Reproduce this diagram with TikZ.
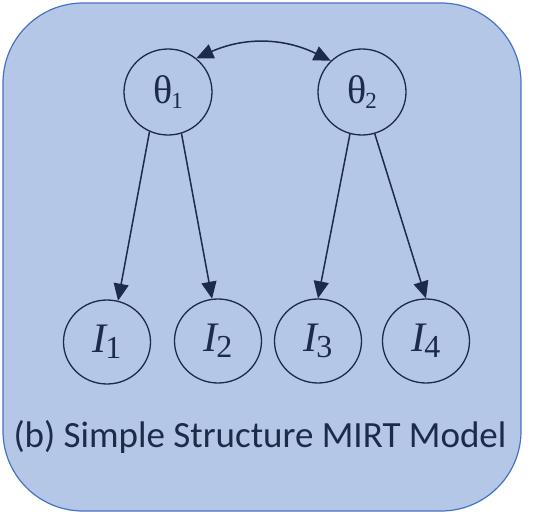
\documentclass[tikz,border=0pt]{standalone}
\usepackage{fontspec}
\setmainfont{Liberation Serif}
\newfontfamily\capfont{Carlito}
\usetikzlibrary{arrows.meta,shapes.geometric}
\definecolor{panelfill}{HTML}{B4C7E7}
\definecolor{paneledge}{HTML}{4472C4}
\definecolor{ink}{HTML}{1C2B4A}
\tikzset{
  latent/.style={draw=ink, line width=1.3pt, ellipse, minimum width=88pt, minimum height=86pt, inner sep=0pt, text=ink},
  obs/.style={draw=ink, line width=1.3pt, ellipse, minimum width=87pt, minimum height=84pt, inner sep=0pt, text=ink},
  tip/.style={Triangle[length=17pt,width=15pt]},
  path/.style={draw=ink, line width=1.5pt, -{Triangle[length=17pt,width=15pt]}},
}
\newcommand{\thlab}[1]{{\fontsize{40}{40}\selectfont θ}\kern-1pt\raisebox{-5pt}{\fontsize{23}{23}\selectfont #1}}
\newcommand{\ilab}[1]{{\fontsize{42}{42}\selectfont\itshape I}\kern-1pt\raisebox{-6pt}{\fontsize{32}{32}\selectfont #1}}
\begin{document}
\begin{tikzpicture}[x=1pt,y=-1pt]
\useasboundingbox (0,0) rectangle (533,514);
\draw[fill=panelfill, draw=paneledge, line width=1.2pt, rounded corners=80pt] (3,3) rectangle (521,511);
\node[latent] (t1) at (168,92) {\thlab{1}};
\node[latent] (t2) at (362,92) {\thlab{2}};
\node[obs] (i1) at (107,342) {\ilab{1}};
\node[obs] (i2) at (218,341) {\ilab{2}};
\node[obs] (i3) at (318,341) {\ilab{3}};
\node[obs] (i4) at (426,341) {\ilab{4}};
\draw[path] (t1.245) -- (i1.75);
\draw[path] (t1.288) -- (i2.98);
\draw[path] (t2.254) -- (i3.90);
\draw[path] (t2.287) -- (i4.90);
\draw[draw=ink, line width=1.5pt, {Triangle[length=17pt,width=15pt]}-{Triangle[length=17pt,width=15pt]}] (t1.50) to[bend left=25] (t2.135);
\node[text=ink, anchor=base] (cap) at (260,447) {\capfont\fontsize{37}{37}\selectfont (b) Simple Structure MIRT Model};
\end{tikzpicture}
\end{document}
